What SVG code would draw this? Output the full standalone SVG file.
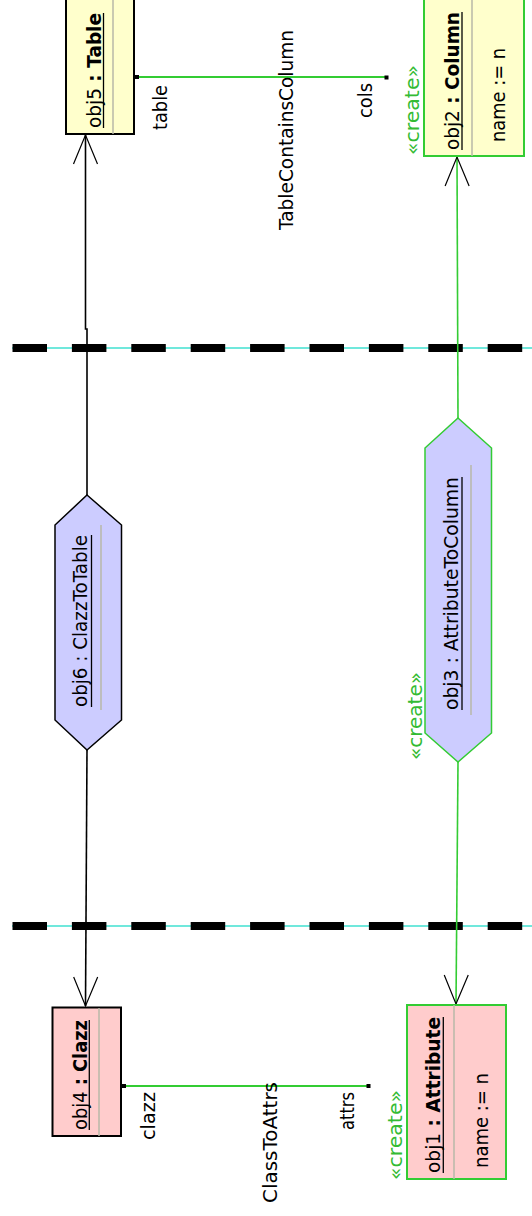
<svg xmlns="http://www.w3.org/2000/svg" width="532" height="1216" viewBox="0 0 532 1216">
<style>
text{font-family:"DejaVu Sans","Verdana",sans-serif;font-size:19.5px;fill:#000}
.b{font-weight:bold}
.cr{fill:#33bb33}
.box{stroke:#000;stroke-width:2}
.gbox{stroke:#33cc33;stroke-width:2}
.yel{fill:#ffffcc}
.pink{fill:#ffcccc}
.lav{fill:#ccccff}
.div{stroke:#b8b8a8;stroke-width:1.5}
.ul{stroke:#000;stroke-width:1.3}
.edge{fill:none;stroke-width:1.6}
.blk{stroke:#000}
.grn{stroke:#33cc33}
.assoc{fill:none;stroke:#33cc33;stroke-width:2}
.sq{fill:#000}
.cy{stroke:#40e0d0;stroke-width:1.5}
.dash{stroke:#000;stroke-width:8;stroke-dasharray:34.5 24.9}
</style>
<defs>
<marker id="arr" markerUnits="userSpaceOnUse" orient="auto" refX="0" refY="0" markerWidth="40" markerHeight="30" overflow="visible">
<path d="M-29,-12 L0,0 L-29,12" fill="none" stroke="#000" stroke-width="1.2"/>
</marker>
</defs>

<g id="separators">
<line class="cy" x1="12" y1="348" x2="532" y2="348"/>
<line class="dash" x1="12.5" y1="348" x2="532" y2="348"/>
<line class="cy" x1="12" y1="926" x2="532" y2="926"/>
<line class="dash" x1="12.5" y1="926" x2="532" y2="926"/>
</g>

<g id="connectors">
<path class="edge blk" d="M87,495 L87,329 L85.5,329 L85.5,135" marker-end="url(#arr)"/>
<path class="edge blk" d="M87,750 L85.5,1006" marker-end="url(#arr)"/>
<path class="edge grn" d="M458,418 L457,157" marker-end="url(#arr)"/>
<path class="edge grn" d="M458,762 L456,1004" marker-end="url(#arr)"/>
<g id="assoc-TableContainsColumn">
<line class="assoc" x1="135" y1="77" x2="388" y2="77"/>
<rect class="sq" x="135" y="75" width="4" height="4"/>
<rect class="sq" x="384.5" y="75.5" width="4" height="4"/>
<text transform="translate(166.5,130) rotate(-90)" textLength="45" lengthAdjust="spacingAndGlyphs">table</text>
<text transform="translate(371.5,118) rotate(-90)" textLength="35" lengthAdjust="spacingAndGlyphs">cols</text>
<text transform="translate(293,230) rotate(-90)" textLength="200" lengthAdjust="spacingAndGlyphs">TableContainsColumn</text>
</g>
<g id="assoc-ClassToAttrs">
<line class="assoc" x1="122" y1="1086" x2="369" y2="1086"/>
<rect class="sq" x="122" y="1084" width="4" height="4"/>
<rect class="sq" x="366.5" y="1084" width="4" height="4"/>
<text transform="translate(155,1140) rotate(-90)" textLength="48" lengthAdjust="spacingAndGlyphs">clazz</text>
<text transform="translate(277,1203) rotate(-90)" textLength="121" lengthAdjust="spacingAndGlyphs">ClassToAttrs</text>
<text transform="translate(354,1130) rotate(-90)" textLength="38" lengthAdjust="spacingAndGlyphs">attrs</text>
</g>
</g>

<g id="obj5">
<rect class="box yel" x="66" y="-5" width="68" height="139"/>
<line class="div" x1="113" y1="0" x2="113" y2="134"/>
<text transform="translate(101,128) rotate(-90)" textLength="115" lengthAdjust="spacingAndGlyphs">obj5<tspan class="b"> : Table</tspan></text>
<line class="ul" x1="103.5" y1="13" x2="103.5" y2="128"/>
</g>

<g id="obj2">
<rect class="gbox yel" x="424" y="-5" width="100" height="161"/>
<line class="div" x1="472" y1="0" x2="472" y2="156"/>
<text transform="translate(459,150) rotate(-90)" textLength="138" lengthAdjust="spacingAndGlyphs">obj2<tspan class="b"> : Column</tspan></text>
<line class="ul" x1="462" y1="12" x2="462" y2="150"/>
<text transform="translate(505,142) rotate(-90)" textLength="94" lengthAdjust="spacingAndGlyphs">name := n</text>
<text class="cr" transform="translate(418.5,155) rotate(-90)" textLength="90" lengthAdjust="spacingAndGlyphs">«create»</text>
</g>

<g id="obj6">
<polygon class="lav" stroke="#000" stroke-width="1.5" points="87,495 121.5,525 121.5,720 87,750 55,720 55,525"/>
<line class="div" x1="101" y1="525" x2="101" y2="710"/>
<text transform="translate(86.5,707) rotate(-90)" textLength="172" lengthAdjust="spacingAndGlyphs">obj6 : ClazzToTable</text>
<line class="ul" x1="91.5" y1="535" x2="91.5" y2="707"/>
</g>

<g id="obj3">
<polygon class="lav" stroke="#33cc33" stroke-width="1.5" points="458,418 491.5,448 491.5,733 458,762 425,733 425,448"/>
<line class="div" x1="471" y1="465" x2="471" y2="715"/>
<text transform="translate(458,710) rotate(-90)" textLength="233" lengthAdjust="spacingAndGlyphs">obj3 : AttributeToColumn</text>
<line class="ul" x1="462" y1="477" x2="462" y2="710"/>
<text class="cr" transform="translate(421.5,760) rotate(-90)" textLength="88" lengthAdjust="spacingAndGlyphs">«create»</text>
</g>

<g id="obj4">
<rect class="box pink" x="52.5" y="1007.5" width="68.5" height="128.5"/>
<line class="div" x1="99" y1="1008" x2="99" y2="1136"/>
<text transform="translate(86.5,1130) rotate(-90)" textLength="110" lengthAdjust="spacingAndGlyphs">obj4<tspan class="b"> : Clazz</tspan></text>
<line class="ul" x1="89.3" y1="1020" x2="89.3" y2="1130"/>
</g>

<g id="obj1">
<rect class="gbox pink" x="407" y="1005" width="99" height="174"/>
<line class="div" x1="454" y1="1005" x2="454" y2="1179"/>
<text transform="translate(440,1173) rotate(-90)" textLength="156" lengthAdjust="spacingAndGlyphs">obj1<tspan class="b"> : Attribute</tspan></text>
<line class="ul" x1="443.3" y1="1017" x2="443.3" y2="1173"/>
<text transform="translate(487.5,1168) rotate(-90)" textLength="95" lengthAdjust="spacingAndGlyphs">name := n</text>
<text class="cr" transform="translate(401.5,1180) rotate(-90)" textLength="90" lengthAdjust="spacingAndGlyphs">«create»</text>
</g>
</svg>
